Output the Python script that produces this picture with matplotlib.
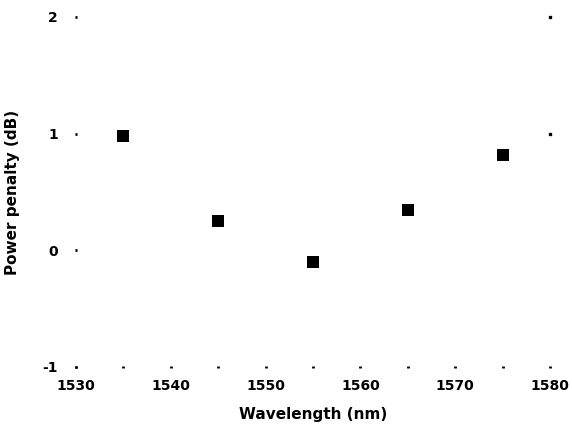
import matplotlib
matplotlib.use("Agg")
import matplotlib.pyplot as plt

# data
wavelength = [1535, 1545, 1555, 1565, 1575]
penalty = [0.98, 0.25, -0.10, 0.35, 0.82]

x_major = [1530, 1540, 1550, 1560, 1570, 1580]
x_minor = [1535, 1545, 1555, 1565, 1575]
y_ticks = [-1, 0, 1, 2]
y_right = [1, 2]

plt.rcParams['font.family'] = ['DejaVu Sans']

fig = plt.figure(figsize=(5.72, 4.34), dpi=100)
ax = fig.add_axes([76 / 572, 67 / 434, 474 / 572, 350 / 434])

ax.scatter(wavelength, penalty, marker='s', s=80, color='black', linewidths=0, clip_on=False)

ax.set_xlim(1530, 1580)
ax.set_ylim(-1, 2)
for s in ax.spines.values():
    s.set_visible(False)

ax.set_xticks(x_major)
ax.set_xticks(x_minor, minor=True)
ax.set_yticks(y_ticks)
ax.set_yticklabels([str(v) for v in y_ticks])
ax.tick_params(axis='both', which='both', direction='inout', length=2, width=2, color='black')
ax.tick_params(axis='x', which='major', pad=8, labelsize=10)
ax.tick_params(axis='y', which='major', pad=12, labelsize=10)
for lab in ax.get_xticklabels() + ax.get_yticklabels():
    lab.set_fontweight('bold')

# right side dots only at 1 and 2
for v in y_right:
    ax.plot([1580], [v], marker='s', ms=2, color='black', clip_on=False)

ax.set_xlabel("Wavelength (nm)", fontsize=11, fontweight='bold', labelpad=10)
ax.set_ylabel("Power penalty (dB)", fontsize=11, fontweight='bold', labelpad=16)

fig.savefig("out.png", dpi=100, facecolor='white')
